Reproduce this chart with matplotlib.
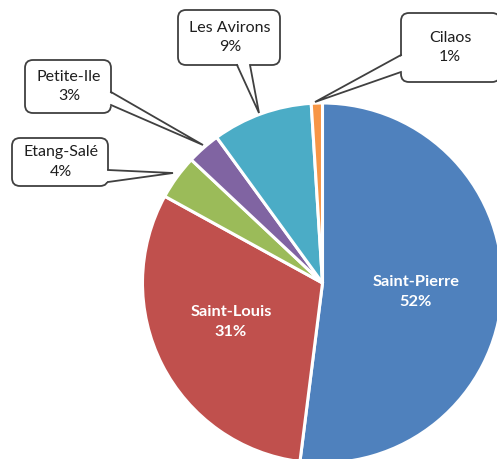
import matplotlib
matplotlib.use("Agg")
import matplotlib.pyplot as plt
from matplotlib.patches import FancyBboxPatch, Polygon

labels = ["Saint-Pierre", "Saint-Louis", "Etang-Salé", "Petite-Ile", "Les Avirons", "Cilaos"]
values = [52, 31, 4, 3, 9, 1]
colors = ["#4F81BD", "#C0504D", "#9BBB59", "#8064A2", "#4BACC6", "#F79646"]

W, H = 497, 459
fig = plt.figure(figsize=(W / 100, H / 100), dpi=100)
ax = fig.add_axes([0, 0, 1, 1])

def Y(y):
    return H - y

cx, cy, r = 322.5, 283, 180
ax.pie(values, colors=colors, startangle=90, counterclock=False,
       center=(cx, Y(cy)), radius=r,
       wedgeprops=dict(edgecolor="white", linewidth=2.2))
ax.set_xlim(0, W)
ax.set_ylim(0, H)
ax.set_aspect("equal")
ax.axis("off")

font = "Lato"
edge = "#404040"

# inner labels
inner = {"Saint-Pierre": (416, 292), "Saint-Louis": (231, 322)}
for lab, v in zip(labels, values):
    if lab in inner:
        x, y = inner[lab]
        ax.text(x, Y(y), f"{lab}\n{v}%", ha="center", va="center", color="white",
                fontsize=11.8, fontweight="bold", family=font, linespacing=1.5, zorder=7)

# callouts: box (x0, y0, x1, y1), base point 1, base point 2, tip, inward offset
callouts = {
    "Les Avirons": ((178, 10, 280, 65), (237, 65), (250, 65), (259, 113), (0, -2.5)),
    "Cilaos": ((401, 13, 500, 82), (401, 55), (401, 72), (315, 102), (2.5, 0)),
    "Petite-Ile": ((25, 60, 111, 113), (111, 92), (111, 105), (203, 145), (-2.5, 0)),
    "Etang-Salé": ((12, 138, 108, 186), (108, 170), (108, 182), (173, 173), (-2.5, 0)),
}
for lab, v in zip(labels, values):
    if lab not in callouts:
        continue
    (x0, y0, x1, y1), b1, b2, tip, off = callouts[lab]
    rad = 8
    box = FancyBboxPatch((x0 + rad, Y(y1) + rad), (x1 - x0) - 2 * rad, (y1 - y0) - 2 * rad,
                         boxstyle=f"round,pad={rad}", fc="white", ec=edge, lw=1.3, zorder=4)
    ax.add_patch(box)
    p1 = (b1[0] + off[0], Y(b1[1] + off[1]))
    p2 = (b2[0] + off[0], Y(b2[1] + off[1]))
    ax.add_patch(Polygon([p1, (tip[0], Y(tip[1])), p2], closed=True, fc="white", ec="none", zorder=5))
    ax.plot([b1[0], tip[0], b2[0]], [Y(b1[1]), Y(tip[1]), Y(b2[1])], color=edge, lw=1.3, zorder=6,
            solid_joinstyle="miter")
    ax.text((x0 + min(x1, W)) / 2 + 1, Y((y0 + y1) / 2), f"{lab}\n{v}%", ha="center", va="center",
            color="#1e1e1e", fontsize=11.5, family=font, linespacing=1.5, zorder=7)

fig.savefig("out.png", dpi=100, facecolor="white")
